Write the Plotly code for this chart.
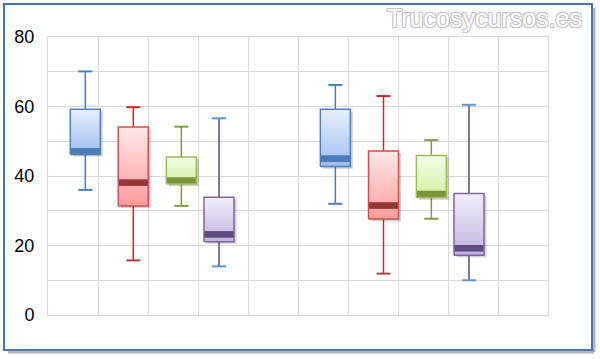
import plotly.graph_objects as go

# ---- data ----
series = ["Serie A", "Serie B", "Serie C", "Serie D", "Serie A", "Serie B", "Serie C", "Serie D"]
box_x = [0.746, 1.706, 2.667, 3.42, 5.747, 6.71, 7.667, 8.42]
v_min = [36.0, 15.7, 31.4, 14.0, 32.0, 11.9, 27.7, 10.0]
v_q1 = [46.2, 31.4, 37.7, 21.1, 42.7, 27.6, 33.8, 17.2]
v_med = [47.1, 38.1, 38.7, 23.2, 45.0, 31.5, 34.8, 19.2]
v_q3 = [59.2, 54.1, 45.5, 33.9, 59.2, 47.2, 45.9, 35.0]
v_max = [70.1, 59.8, 54.2, 56.6, 66.2, 63.0, 50.3, 60.5]
y_ticks = [0, 20, 40, 60, 80]

# ---- styles ----
styles = {
    "Serie A": dict(top="#e8f0ff", bottom="#9dbdf0", band="#4a7ab8", outline="#4f81bd",
                    whisker="#4a7ebb", cap_hi="#4a7ebb", cap_lo="#4a7ebb"),
    "Serie B": dict(top="#ffe8e8", bottom="#ff9c9c", band="#943634", outline="#c9504d",
                    whisker="#e0201b", cap_hi="#d42020", cap_lo="#b04040"),
    "Serie C": dict(top="#f3ffe8", bottom="#cff09e", band="#77933c", outline="#9bbb59",
                    whisker="#7f9a48", cap_hi="#7f9a48", cap_lo="#7f9a48"),
    "Serie D": dict(top="#f2eefa", bottom="#c3b3e0", band="#5f4a7e", outline="#8064a2",
                    whisker="#5f497a", cap_hi="#5b9bd5", cap_lo="#5b9bd5"),
}
BOX_W = 0.6
CAP_W = 0.28
BAND_H = 1.9
GRID = "#d9d9d9"

fig = go.Figure()

def rect(x0, x1, y0, y1):
    return [x0, x1, x1, x0, x0], [y0, y0, y1, y1, y0]

for i, s in enumerate(series):
    st = styles[s]
    c = box_x[i]
    # whisker
    fig.add_trace(go.Scatter(x=[c, c], y=[v_min[i], v_max[i]], mode="lines",
                             line=dict(color=st["whisker"], width=1.5), hoverinfo="skip"))
    fig.add_trace(go.Scatter(x=[c - CAP_W / 2, c + CAP_W / 2], y=[v_max[i], v_max[i]], mode="lines",
                             line=dict(color=st["cap_hi"], width=2), hoverinfo="skip"))
    fig.add_trace(go.Scatter(x=[c - CAP_W / 2, c + CAP_W / 2], y=[v_min[i], v_min[i]], mode="lines",
                             line=dict(color=st["cap_lo"], width=2), hoverinfo="skip"))
    # shadow
    xs, ys = rect(c - BOX_W / 2 + 0.05, c + BOX_W / 2 + 0.05, v_q1[i] - 0.6, v_q3[i] - 0.6)
    fig.add_trace(go.Scatter(x=xs, y=ys, mode="none", fill="toself",
                             fillcolor="rgba(0,0,0,0.18)", hoverinfo="skip"))
    # box with vertical gradient
    xs, ys = rect(c - BOX_W / 2, c + BOX_W / 2, v_q1[i], v_q3[i])
    fig.add_trace(go.Scatter(x=xs, y=ys, mode="lines", fill="toself",
                             line=dict(width=0, color=st["outline"]),
                             fillgradient=dict(type="vertical",
                                               colorscale=[[0, st["bottom"]], [1, st["top"]]]),
                             hoverinfo="skip"))
    # median band
    xs, ys = rect(c - BOX_W / 2, c + BOX_W / 2, v_med[i] - BAND_H / 2, v_med[i] + BAND_H / 2)
    fig.add_trace(go.Scatter(x=xs, y=ys, mode="none", fill="toself",
                             fillcolor=st["band"], hoverinfo="skip"))
    # outline
    xs, ys = rect(c - BOX_W / 2, c + BOX_W / 2, v_q1[i], v_q3[i])
    fig.add_trace(go.Scatter(x=xs, y=ys, mode="lines",
                             line=dict(width=1.5, color=st["outline"]), hoverinfo="skip"))

def px_x(p):
    return (p - 48) / 500.0

def px_y(p):
    return (315 - p) / 278.0

shapes = [
    # shadow of frame
    dict(type="line", xref="paper", yref="paper", x0=px_x(8), x1=px_x(594), y0=px_y(352), y1=px_y(352),
         line=dict(color="rgba(120,120,120,0.55)", width=3)),
    dict(type="line", xref="paper", yref="paper", x0=px_x(594), x1=px_x(594), y0=px_y(8), y1=px_y(352),
         line=dict(color="rgba(120,120,120,0.55)", width=3)),
    # frame
    dict(type="rect", xref="paper", yref="paper", x0=px_x(4), x1=px_x(592), y0=px_y(350), y1=px_y(4),
         line=dict(color="#4a76b0", width=2), fillcolor="rgba(0,0,0,0)"),
]

fig.update_layout(
    width=600, height=359,
    margin=dict(l=48, r=52, t=37, b=44),
    paper_bgcolor="white", plot_bgcolor="white",
    showlegend=False,
    shapes=shapes,
    xaxis=dict(range=[0, 10], dtick=1, showticklabels=False, showgrid=True,
               gridcolor=GRID, gridwidth=1, zeroline=False,
               showline=True, mirror=True, linecolor=GRID, linewidth=1, fixedrange=True),
    yaxis=dict(range=[0, 80], tickvals=y_ticks, showgrid=True, gridcolor=GRID, gridwidth=1,
               zeroline=False, showline=True, mirror=True, linecolor=GRID, linewidth=1,
               minor=dict(dtick=10, showgrid=True, gridcolor=GRID, gridwidth=1),
               tickfont=dict(family="Liberation Sans", size=18, color="#000000"),
               ticklabelstandoff=9, fixedrange=True),
    annotations=[dict(
        text="Trucosycursos.es", xref="paper", yref="paper",
        x=px_x(584), y=px_y(2), xanchor="right", yanchor="top", showarrow=False,
        font=dict(family="Liberation Sans", size=25, color="white",
                  shadow="1px 1px 0 #c4c4c4, -1px -1px 0 #c4c4c4, 1px -1px 0 #c4c4c4, -1px 1px 0 #c4c4c4"),
    )],
)

fig.write_html("out.html")
